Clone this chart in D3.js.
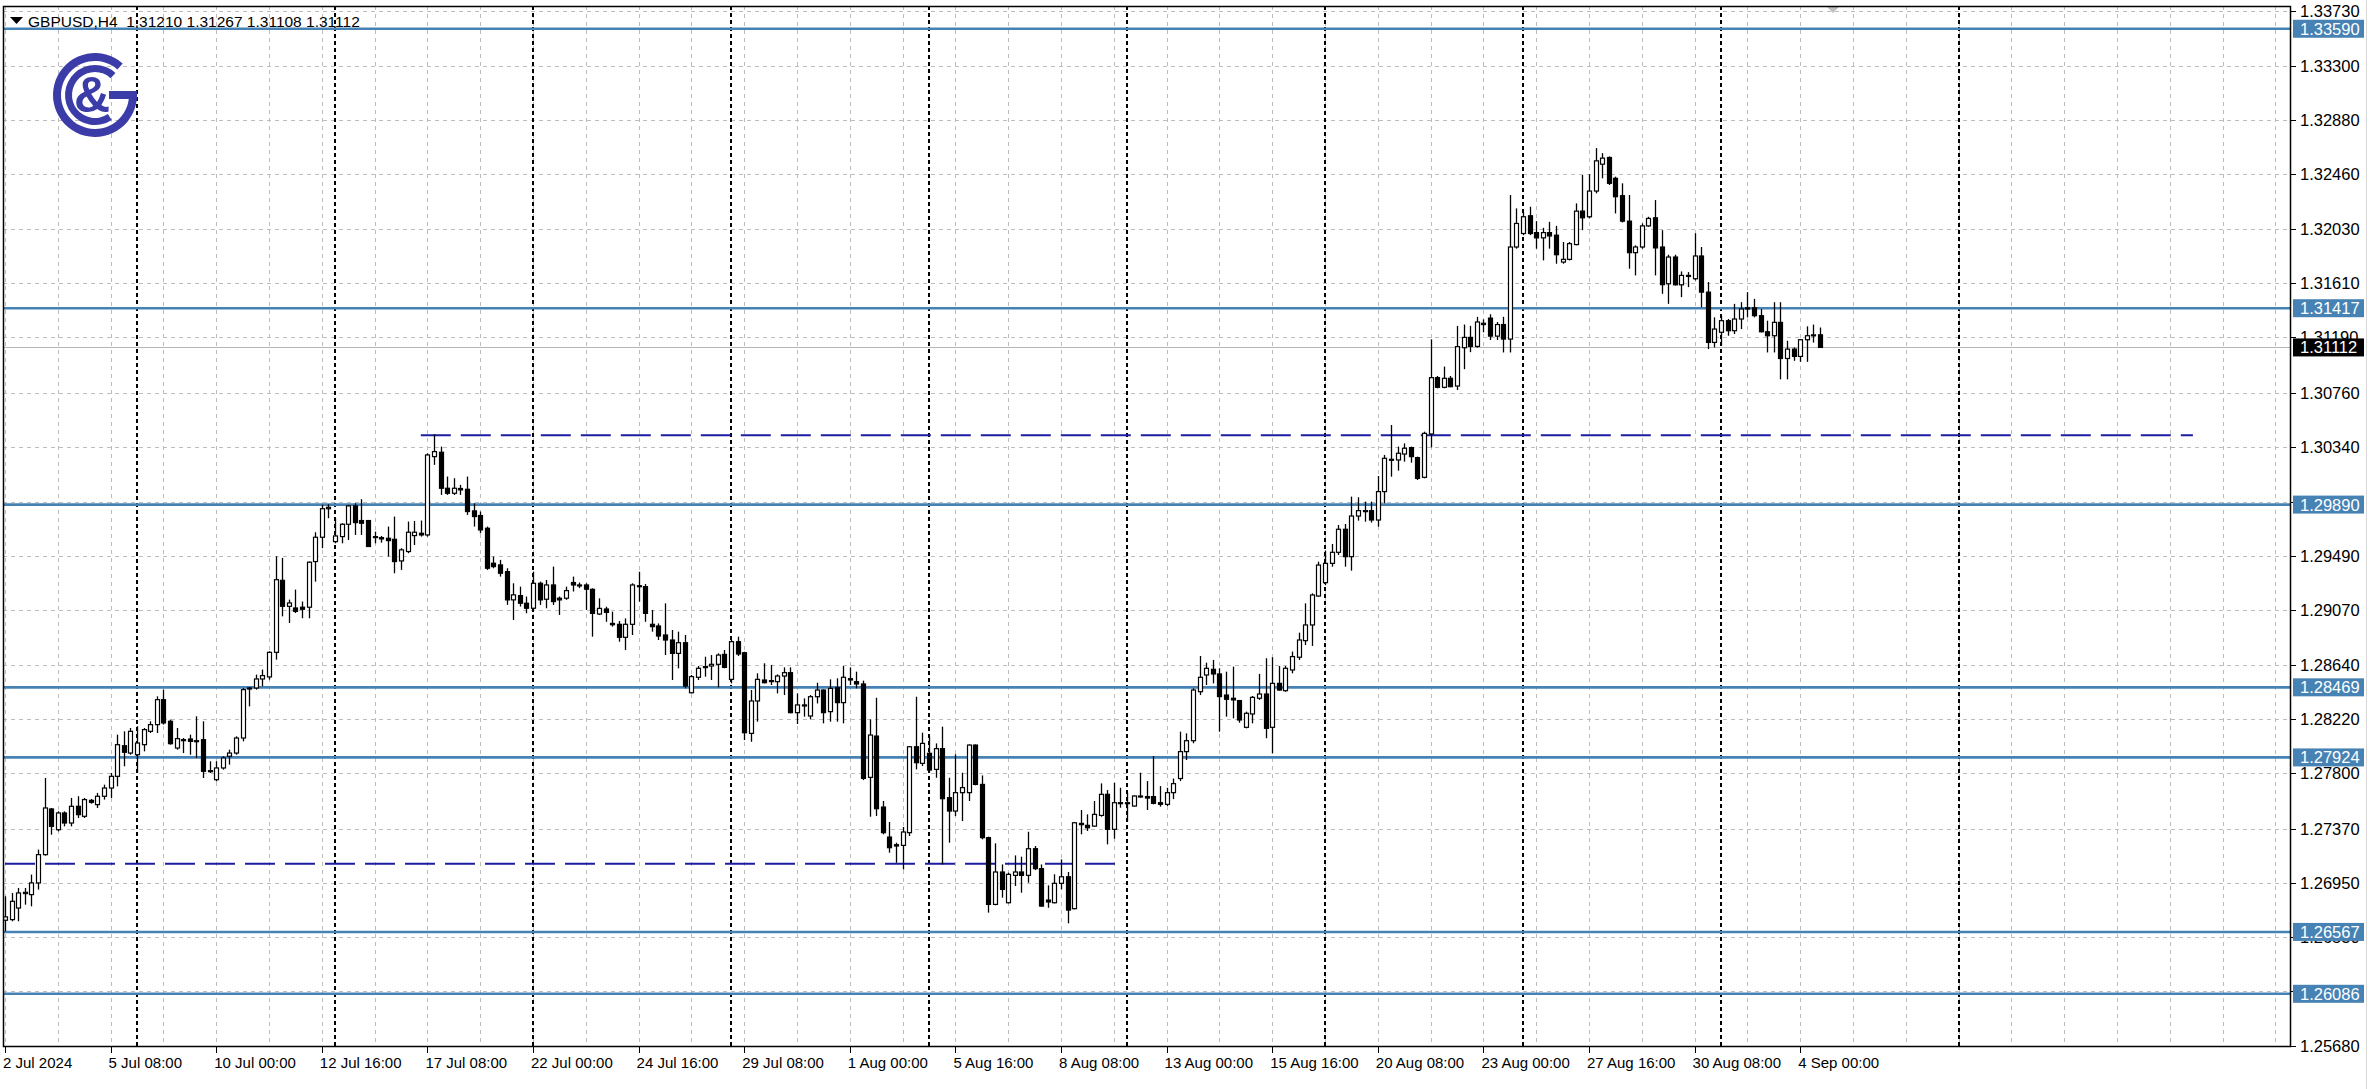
<!DOCTYPE html>
<html><head><meta charset="utf-8">
<script src="https://cdn.jsdelivr.net/npm/d3@7"></script>
<style>
html,body{margin:0;padding:0;background:#fff;}
svg{display:block;}
</style></head><body>
<svg id="c" width="2372" height="1089"></svg>
<script>
// ---------- DATA ----------
const symbolTitle = "GBPUSD,H4";
const lastOHLC = ["1.31210","1.31267","1.31108","1.31112"];

const open = [
1.26658,1.26663,1.26753,1.26865,1.26857,1.26948,1.27168,1.27523,1.27362,1.27492,
1.27414,1.27544,1.27466,1.27590,1.27557,1.27622,1.27686,1.27777,1.28015,1.27958,
1.27945,1.28023,1.28127,1.28179,1.28373,1.28205,1.27997,1.28062,1.28067,1.28049,
1.28062,1.27816,1.27751,1.27842,1.27933,1.27958,1.28075,1.28456,1.28464,1.28534,
1.28550,1.28741,1.29301,1.29099,1.29086,1.29092,1.29092,1.29447,1.29636,1.29858,
1.29602,1.29641,1.29737,1.29880,1.29766,1.29766,1.29641,1.29633,1.29628,1.29620,
1.29452,1.29525,1.29649,1.29667,1.29654,1.30263,1.30297,1.30017,1.29978,1.30015,
1.30009,1.29841,1.29805,1.29706,1.29434,1.29421,1.29369,1.29149,1.29182,1.29123,
1.29084,1.29278,1.29154,1.29265,1.29162,1.29162,1.29284,1.29265,1.29265,1.29231,
1.29039,1.29078,1.28966,1.28959,1.28858,1.28959,1.29259,1.29252,1.28959,1.28946,
1.28876,1.28837,1.28733,1.28816,1.28427,1.28547,1.28630,1.28635,1.28648,1.28725,
1.28531,1.28824,1.28738,1.28111,1.28363,1.28526,1.28521,1.28513,1.28557,1.28583,
1.28272,1.28332,1.28246,1.28396,1.28448,1.28280,1.28466,1.28350,1.28536,1.28513,
1.28495,1.27769,1.28090,1.27538,1.27305,1.27245,1.27240,1.27339,1.28007,1.27878,
1.27956,1.27831,1.27992,1.27611,1.27507,1.27650,1.27650,1.28020,1.27714,1.27300,
1.26781,1.27033,1.26794,1.27007,1.27033,1.27007,1.27214,1.27059,1.26815,1.26794,
1.26945,1.26996,1.26748,1.27411,1.27396,1.27390,1.27473,1.27637,1.27365,1.27572,
1.27567,1.27546,1.27624,1.27619,1.27619,1.27572,1.27559,1.27650,1.27760,1.27969,
1.28054,1.28435,1.28565,1.28609,1.28573,1.28409,1.28384,1.28366,1.28158,1.28262,
1.28384,1.28417,1.28158,1.28500,1.28443,1.28604,1.28703,1.28832,1.28954,1.29179,
1.29283,1.29433,1.29519,1.29698,1.29485,1.29801,1.29840,1.29843,1.29770,1.29991,
1.30237,1.30237,1.30283,1.30333,1.30255,1.30102,1.30439,1.30877,1.30802,1.30872,
1.30812,1.31110,1.31190,1.31120,1.31290,1.31340,1.31200,1.31290,1.31177,1.31893,
1.31998,1.32136,1.32005,1.31964,1.32005,1.31985,1.31776,1.31797,1.31912,1.32172,
1.32128,1.32328,1.32537,1.32589,1.32427,1.32292,1.32094,1.31849,1.31893,1.32057,
1.32120,1.31893,1.31607,1.31815,1.31599,1.31667,1.31646,1.31823,1.31542,1.31151,
1.31230,1.31320,1.31242,1.31333,1.31411,1.31420,1.31359,1.31234,1.31203,1.31307,
1.31026,1.31099,1.31042,1.31172,1.31203,1.31210];

const high = [
1.26844,1.26870,1.26909,1.26909,1.27013,1.27207,1.27764,1.27531,1.27505,1.27505,
1.27609,1.27622,1.27609,1.27601,1.27648,1.27712,1.27803,1.28101,1.28127,1.28153,
1.28166,1.28153,1.28205,1.28399,1.28451,1.28218,1.28153,1.28075,1.28101,1.28244,
1.28205,1.27894,1.27894,1.27933,1.27984,1.28088,1.28464,1.28472,1.28568,1.28607,
1.28749,1.29488,1.29475,1.29151,1.29229,1.29136,1.29447,1.29675,1.29889,1.29893,
1.29784,1.29745,1.29888,1.29900,1.29932,1.29766,1.29680,1.29646,1.29719,1.29797,
1.29551,1.29758,1.29763,1.29766,1.30289,1.30437,1.30341,1.30108,1.30095,1.30043,
1.30108,1.29900,1.29836,1.29719,1.29486,1.29460,1.29395,1.29278,1.29252,1.29175,
1.29369,1.29291,1.29304,1.29408,1.29175,1.29252,1.29330,1.29284,1.29278,1.29239,
1.29161,1.29096,1.29057,1.28985,1.29005,1.29278,1.29368,1.29272,1.29070,1.28966,
1.29122,1.28915,1.28902,1.28876,1.28565,1.28635,1.28707,1.28720,1.28733,1.28759,
1.28837,1.28863,1.28746,1.28448,1.28578,1.28656,1.28643,1.28570,1.28624,1.28624,
1.28422,1.28383,1.28409,1.28505,1.28453,1.28531,1.28539,1.28635,1.28624,1.28591,
1.28521,1.28220,1.28388,1.27585,1.27422,1.27261,1.27383,1.28013,1.28396,1.28116,
1.28090,1.28033,1.28163,1.27766,1.27948,1.27805,1.28025,1.28025,1.27784,1.27308,
1.27256,1.27092,1.27028,1.27162,1.27152,1.27346,1.27235,1.27092,1.26929,1.27015,
1.27131,1.27033,1.27421,1.27515,1.27481,1.27585,1.27722,1.27670,1.27727,1.27688,
1.27650,1.27629,1.27805,1.27740,1.27935,1.27701,1.27688,1.27760,1.28124,1.28111,
1.28461,1.28713,1.28661,1.28682,1.28617,1.28591,1.28630,1.28371,1.28280,1.28402,
1.28573,1.28695,1.28703,1.28635,1.28635,1.28747,1.28894,1.29122,1.29200,1.29446,
1.29532,1.29584,1.29731,1.29739,1.29952,1.29947,1.29913,1.29913,1.30112,1.30276,
1.30509,1.30341,1.30366,1.30341,1.30263,1.30457,1.31175,1.30890,1.30963,1.30890,
1.31279,1.31290,1.31280,1.31350,1.31330,1.31370,1.31310,1.31350,1.32297,1.32193,
1.32167,1.32206,1.32094,1.32042,1.32089,1.32057,1.31932,1.31932,1.32232,1.32453,
1.32459,1.32662,1.32623,1.32597,1.32440,1.32388,1.32297,1.31906,1.32076,1.32128,
1.32258,1.32024,1.31833,1.31833,1.31703,1.31698,1.32000,1.31893,1.31620,1.31346,
1.31359,1.31333,1.31451,1.31464,1.31542,1.31490,1.31411,1.31320,1.31464,1.31464,
1.31164,1.31112,1.31177,1.31276,1.31290,1.31267];

const low = [
1.26572,1.26650,1.26650,1.26779,1.26766,1.26896,1.27160,1.27323,1.27349,1.27388,
1.27388,1.27453,1.27453,1.27564,1.27531,1.27596,1.27609,1.27699,1.27855,1.27945,
1.27803,1.27971,1.28114,1.28114,1.28179,1.28023,1.27984,1.27958,1.27945,1.27920,
1.27764,1.27803,1.27738,1.27829,1.27868,1.27945,1.28049,1.28321,1.28451,1.28477,
1.28529,1.28684,1.29021,1.28969,1.29047,1.29006,1.29006,1.29291,1.29551,1.29784,
1.29589,1.29589,1.29615,1.29654,1.29654,1.29564,1.29589,1.29594,1.29486,1.29356,
1.29382,1.29512,1.29576,1.29641,1.29641,1.30199,1.29965,1.29965,1.29965,1.29965,
1.29810,1.29719,1.29667,1.29382,1.29395,1.29330,1.29110,1.28993,1.29097,1.29045,
1.29071,1.29110,1.29084,1.29110,1.29032,1.29149,1.29214,1.29240,1.29071,1.28863,
1.29031,1.28979,1.28941,1.28824,1.28759,1.28876,1.29135,1.28979,1.28902,1.28837,
1.28720,1.28526,1.28617,1.28461,1.28422,1.28526,1.28552,1.28526,1.28469,1.28617,
1.28500,1.28713,1.28059,1.28046,1.28202,1.28500,1.28487,1.28422,1.28409,1.28267,
1.28184,1.28241,1.28220,1.28344,1.28189,1.28202,1.28202,1.28189,1.28487,1.28461,
1.27748,1.27463,1.27468,1.27326,1.27183,1.27105,1.27053,1.27313,1.27831,1.27857,
1.27805,1.27766,1.27092,1.27261,1.27468,1.27429,1.27585,1.27707,1.27287,1.26717,
1.26774,1.26833,1.26789,1.26924,1.26872,1.26950,1.27048,1.26763,1.26755,1.26789,
1.26898,1.26634,1.26742,1.27326,1.27352,1.27385,1.27463,1.27248,1.27292,1.27533,
1.27429,1.27541,1.27611,1.27515,1.27559,1.27541,1.27546,1.27600,1.27740,1.27904,
1.28034,1.28409,1.28487,1.28500,1.28124,1.28241,1.28228,1.28194,1.28150,1.28189,
1.28371,1.28073,1.27956,1.28443,1.28435,1.28578,1.28682,1.28798,1.28791,1.29174,
1.29265,1.29407,1.29498,1.29407,1.29376,1.29765,1.29757,1.29750,1.29718,1.29900,
1.30107,1.30154,1.30224,1.30216,1.30081,1.30094,1.30335,1.30794,1.30794,1.30802,
1.30781,1.30943,1.31075,1.31110,1.31230,1.31170,1.31170,1.31073,1.31073,1.31880,
1.31985,1.31985,1.31880,1.31789,1.31880,1.31763,1.31763,1.31789,1.31906,1.32024,
1.32115,1.32310,1.32427,1.32375,1.32154,1.32084,1.31724,1.31672,1.31880,1.32050,
1.31672,1.31529,1.31451,1.31594,1.31503,1.31581,1.31633,1.31425,1.31099,1.31112,
1.31125,1.31203,1.31216,1.31255,1.31346,1.31346,1.31229,1.31073,1.31073,1.30864,
1.30864,1.31008,1.31000,1.31000,1.31150,1.31108];

const close = [
1.26684,1.26805,1.26870,1.26875,1.26948,1.27168,1.27531,1.27388,1.27492,1.27414,
1.27544,1.27479,1.27596,1.27575,1.27622,1.27686,1.27777,1.28023,1.27964,1.28127,
1.28036,1.28140,1.28179,1.28373,1.28192,1.28031,1.28070,1.28062,1.28049,1.28054,
1.27816,1.27821,1.27842,1.27920,1.27958,1.28075,1.28451,1.28464,1.28534,1.28560,
1.28741,1.29306,1.29099,1.29125,1.29060,1.29076,1.29442,1.29636,1.29858,1.29869,
1.29646,1.29737,1.29880,1.29750,1.29745,1.29564,1.29636,1.29623,1.29610,1.29447,
1.29538,1.29675,1.29675,1.29654,1.30276,1.30302,1.30017,1.29978,1.30017,1.30004,
1.29836,1.29797,1.29693,1.29395,1.29408,1.29356,1.29149,1.29188,1.29123,1.29084,
1.29278,1.29149,1.29265,1.29136,1.29149,1.29221,1.29265,1.29260,1.29232,1.29044,
1.29083,1.29052,1.28956,1.28858,1.28959,1.29265,1.29252,1.29044,1.28941,1.28868,
1.28837,1.28733,1.28816,1.28479,1.28552,1.28617,1.28624,1.28648,1.28720,1.28624,
1.28824,1.28728,1.28116,1.28363,1.28531,1.28505,1.28516,1.28557,1.28583,1.28272,
1.28332,1.28326,1.28396,1.28448,1.28272,1.28461,1.28350,1.28547,1.28526,1.28495,
1.27761,1.28098,1.27525,1.27339,1.27222,1.27235,1.27344,1.28007,1.27883,1.28033,
1.27826,1.27992,1.27603,1.27507,1.27650,1.27689,1.28020,1.27714,1.27300,1.26781,
1.27033,1.26898,1.27015,1.27033,1.27007,1.27214,1.27059,1.26768,1.26800,1.26945,
1.26996,1.26737,1.27416,1.27401,1.27377,1.27481,1.27637,1.27365,1.27572,1.27567,
1.27572,1.27624,1.27619,1.27608,1.27567,1.27559,1.27650,1.27720,1.27969,1.28054,
1.28448,1.28547,1.28617,1.28573,1.28397,1.28376,1.28371,1.28215,1.28267,1.28391,
1.28417,1.28150,1.28500,1.28448,1.28617,1.28708,1.28837,1.28954,1.29187,1.29420,
1.29433,1.29519,1.29698,1.29485,1.29801,1.29843,1.29843,1.29770,1.29991,1.30250,
1.30242,1.30289,1.30328,1.30263,1.30094,1.30444,1.30877,1.30802,1.30872,1.30807,
1.31118,1.31190,1.31120,1.31310,1.31300,1.31200,1.31290,1.31177,1.31893,1.32076,
1.32128,1.31998,1.31964,1.32005,1.31979,1.31833,1.31797,1.31919,1.32172,1.32120,
1.32328,1.32563,1.32584,1.32388,1.32284,1.32094,1.31849,1.31893,1.32057,1.32115,
1.31886,1.31600,1.31815,1.31599,1.31672,1.31672,1.31823,1.31542,1.31151,1.31255,
1.31320,1.31242,1.31333,1.31411,1.31420,1.31359,1.31234,1.31203,1.31307,1.31026,
1.31099,1.31042,1.31172,1.31203,1.31210,1.31112];

// price axis ticks
const priceTicks = [1.25680,1.26110,1.26530,1.26950,1.27370,1.27800,1.28220,1.28640,1.29070,1.29490,
                    1.29910,1.30340,1.30760,1.31190,1.31610,1.32030,1.32460,1.32880,1.33300,1.33730];
const priceTickLabels = ["1.25680","1.26110","1.26530","1.26950","1.27370","1.27800","1.28220","1.28640","1.29070","1.29490",
                    "1.29910","1.30340","1.30760","1.31190","1.31610","1.32030","1.32460","1.32880","1.33300","1.33730"];
// time axis labels (bar index of label, text)
const timeTickBars = [0,16,32,48,64,80,96,112,128,144,160,176,192,208,224,240,256,272];
const timeTickLabels = ["2 Jul 2024","5 Jul 08:00","10 Jul 00:00","12 Jul 16:00","17 Jul 08:00","22 Jul 00:00",
  "24 Jul 16:00","29 Jul 08:00","1 Aug 00:00","5 Aug 16:00","8 Aug 08:00","13 Aug 00:00","15 Aug 16:00",
  "20 Aug 08:00","23 Aug 00:00","27 Aug 16:00","30 Aug 08:00","4 Sep 00:00"];
// weekly period separators (bar index)
const separatorBars = [20,50,80,110,140,170,200,230,260,296];
// horizontal support/resistance levels
const levelPrices = [1.33590,1.31417,1.29890,1.28469,1.27924,1.26567,1.26086];
const levelLabels = ["1.33590","1.31417","1.29890","1.28469","1.27924","1.26567","1.26086"];
// dashed trend levels: price, from bar, to bar
const dashedPrices = [1.30430, 1.27097];
const dashedFrom = [63, 0];
const dashedTo = [331.5, 168.5];
const bidPrice = 1.31112;
const bidLabel = "1.31112";

// ---------- LAYOUT ----------
const W = 2372, H = 1089;
const plotL = 3, plotR = 2290, plotT = 6, plotB = 1046;
const svg = d3.select("#c");
const x = d3.scaleLinear().domain([0, 275]).range([5, 1820]);
const y = d3.scaleLinear().domain([1.2568, 1.33767]).range([plotB, plotT]);
const maxBar = x.invert(plotR);

svg.append("rect").attr("width", W).attr("height", H).attr("fill", "#fff");
svg.append("defs").append("clipPath").attr("id","clip")
  .append("rect").attr("x",plotL).attr("y",plotT).attr("width",plotR-plotL).attr("height",plotB-plotT);
const plot = svg.append("g").attr("clip-path","url(#clip)");

const px = v => Math.round(v) + 0.5;

// grid
const gridColor = "#bdbdbd";
plot.append("g").selectAll("line").data(priceTicks).join("line")
  .attr("x1", plotL).attr("x2", plotR)
  .attr("y1", d => px(y(d))).attr("y2", d => px(y(d)))
  .attr("stroke", gridColor).attr("stroke-width", 1).attr("stroke-dasharray", "4,4");
const vgrid = d3.range(0, Math.floor(maxBar) + 1, 8);
plot.append("g").selectAll("line").data(vgrid).join("line")
  .attr("x1", d => px(x(d))).attr("x2", d => px(x(d)))
  .attr("y1", plotT).attr("y2", plotB)
  .attr("stroke", gridColor).attr("stroke-width", 1).attr("stroke-dasharray", "4,4");
// separators
plot.append("g").selectAll("line").data(separatorBars).join("line")
  .attr("x1", d => Math.round(x(d))).attr("x2", d => Math.round(x(d)))
  .attr("y1", plotT).attr("y2", plotB)
  .attr("stroke", "#000").attr("stroke-width", 2).attr("stroke-dasharray", "4,3");

// blue levels
plot.append("g").selectAll("line").data(levelPrices).join("line")
  .attr("x1", plotL).attr("x2", plotR)
  .attr("y1", d => y(d)).attr("y2", d => y(d))
  .attr("stroke", "#4682b4").attr("stroke-width", 2.6);

// dashed levels
plot.append("g").selectAll("line").data(dashedPrices).join("line")
  .attr("x1", (d,i) => x(dashedFrom[i])).attr("x2", (d,i) => x(dashedTo[i]))
  .attr("y1", d => y(d)).attr("y2", d => y(d))
  .attr("stroke", "#1c1ca0").attr("stroke-width", 2).attr("stroke-dasharray", "30,10");

// bid line
plot.append("line").attr("x1", plotL).attr("x2", plotR)
  .attr("y1", px(y(bidPrice))).attr("y2", px(y(bidPrice)))
  .attr("stroke", "#b4b4b4").attr("stroke-width", 1);

// candles
const bars = open.map((o,i) => ({i, o, h: high[i], l: low[i], c: close[i]}));
const cg = plot.append("g");
cg.selectAll("line").data(bars).join("line")
  .attr("x1", d => px(x(d.i))).attr("x2", d => px(x(d.i)))
  .attr("y1", d => y(d.h)).attr("y2", d => y(d.l))
  .attr("stroke", "#000").attr("stroke-width", 1.3);
cg.selectAll("rect").data(bars).join("rect")
  .attr("x", d => Math.round(x(d.i)) - 1.5)
  .attr("width", 4)
  .attr("y", d => y(Math.max(d.o, d.c)))
  .attr("height", d => Math.max(1, Math.abs(y(d.o) - y(d.c))))
  .attr("fill", d => d.c >= d.o ? "#fff" : "#000")
  .attr("stroke", "#000").attr("stroke-width", 1.2);

// chart shift marker
svg.append("path").attr("d", d3.line()([[1826,6],[1840,6],[1833,13]]) + "Z").attr("fill", "#c0c0c0");

// logo
const logoBlue = "#3c3ca8";
const lg = svg.append("g").attr("transform", "translate(95,95)");
lg.append("path").attr("d", d3.arc()({innerRadius: 34, outerRadius: 42, startAngle: Math.PI/2, endAngle: 2*Math.PI + 0.72}))
  .attr("fill", logoBlue);
lg.append("path").attr("d", d3.arc()({innerRadius: 23, outerRadius: 30, startAngle: 2.55, endAngle: 2*Math.PI + 0.75}))
  .attr("fill", logoBlue);
lg.append("rect").attr("x", 14).attr("y", -4).attr("width", 28).attr("height", 8).attr("fill", logoBlue);
lg.append("text").attr("x", -3).attr("y", 17).attr("text-anchor", "middle")
  .attr("font-family", "Liberation Sans, Arial, sans-serif").attr("font-weight", "bold")
  .attr("font-size", 50).attr("fill", logoBlue).text("&");

// plot border
svg.append("rect").attr("x", plotL + 0.5).attr("y", plotT + 0.5)
  .attr("width", plotR - plotL).attr("height", plotB - plotT)
  .attr("fill", "none").attr("stroke", "#000").attr("stroke-width", 1.5);

// header
svg.append("path").attr("d", d3.line()([[10,17],[23,17],[16.5,24]]) + "Z").attr("fill", "#000");
svg.append("text").attr("x", 28).attr("y", 27)
  .attr("font-family", "Liberation Sans, Arial, sans-serif").attr("font-size", 15.5).attr("fill", "#000")
  .attr("xml:space", "preserve")
  .text(symbolTitle + "  " + lastOHLC.join(" "));

// right axis labels
const fontAx = "Liberation Sans, Arial, sans-serif";
const ra = svg.append("g");
ra.selectAll("line").data(priceTicks).join("line")
  .attr("x1", plotR).attr("x2", plotR + 6)
  .attr("y1", d => px(y(d))).attr("y2", d => px(y(d)))
  .attr("stroke", "#000");
ra.selectAll("text").data(priceTicks).join("text")
  .attr("x", plotR + 10).attr("y", d => y(d) + 6)
  .attr("font-family", fontAx).attr("font-size", 16.5).attr("fill", "#000")
  .text((d,i) => priceTickLabels[i]);

// level boxes
const lb = svg.append("g");
lb.selectAll("rect").data(levelPrices).join("rect")
  .attr("x", plotR + 3).attr("y", d => y(d) - 9).attr("width", 71).attr("height", 18)
  .attr("fill", "#4682b4");
lb.selectAll("text").data(levelPrices).join("text")
  .attr("x", plotR + 10).attr("y", d => y(d) + 6)
  .attr("font-family", fontAx).attr("font-size", 16.5).attr("fill", "#fff")
  .text((d,i) => levelLabels[i]);
// bid box
svg.append("rect").attr("x", plotR + 3).attr("y", y(bidPrice) - 9).attr("width", 71).attr("height", 18).attr("fill", "#000");
svg.append("text").attr("x", plotR + 10).attr("y", y(bidPrice) + 6)
  .attr("font-family", fontAx).attr("font-size", 16.5).attr("fill", "#fff").text(bidLabel);

// time axis
const ta = svg.append("g");
ta.selectAll("line").data(timeTickBars).join("line")
  .attr("x1", d => px(x(d))).attr("x2", d => px(x(d)))
  .attr("y1", plotB).attr("y2", plotB + 7)
  .attr("stroke", "#000");
ta.selectAll("text").data(timeTickBars).join("text")
  .attr("x", d => x(d) - 2).attr("y", plotB + 22)
  .attr("font-family", fontAx).attr("font-size", 15).attr("fill", "#000")
  .text((d,i) => timeTickLabels[i]);

// window edge
svg.append("line").attr("x1", 2366.5).attr("x2", 2366.5).attr("y1", 0).attr("y2", H)
  .attr("stroke", "#d8d8d8").attr("stroke-width", 1);
</script>
</body></html>
